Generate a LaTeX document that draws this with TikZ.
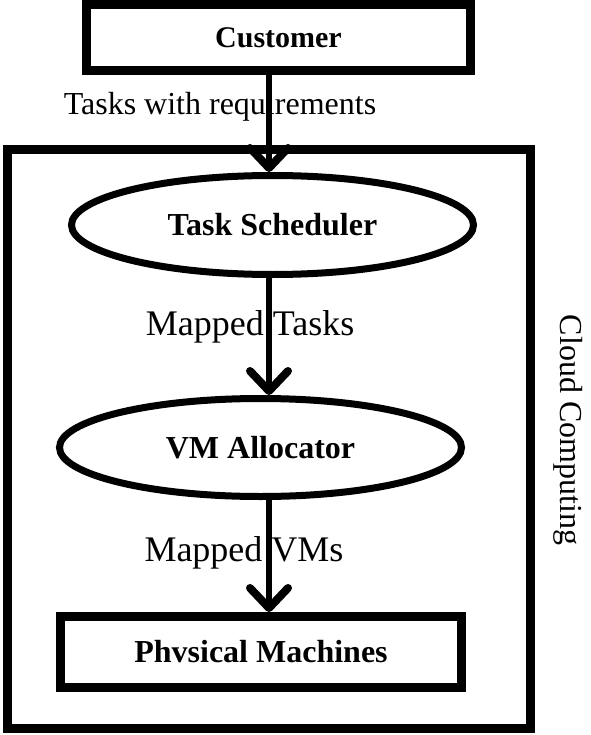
\documentclass[tikz,border=0pt]{standalone}
\usepackage{fontspec}
\setmainfont{Liberation Serif}
\usetikzlibrary{shapes.geometric,arrows.meta}
\begin{document}
\begin{tikzpicture}[x=1pt,y=-1pt,
  boxnode/.style={draw,line width=9pt,rectangle,inner sep=0pt,font=\fontsize{32}{38}\selectfont\bfseries},
  ellnode/.style={draw,line width=7pt,ellipse,inner sep=0pt,font=\fontsize{32}{38}\selectfont\bfseries},
  lbl/.style={inner sep=0pt,font=\fontsize{36}{42}\selectfont},
  arr/.style={line width=6pt,-{Straight Barb[length=20pt,width=38pt,line width=8pt,round]}}]
\useasboundingbox (0,0) rectangle (590,735);
\coordinate (ax) at (269,0);
\node[boxnode,minimum width=384pt,minimum height=66pt,font=\fontsize{30}{36}\selectfont\bfseries] (cust) at (278.5,37.5) {Customer};
\node[boxnode,minimum width=523pt,minimum height=579pt] (cloud) at (269,439) {};
\node[ellnode,minimum width=402pt,minimum height=99pt] (ts) at (272.5,225) {Task Scheduler};
\node[ellnode,minimum width=402pt,minimum height=98pt] (vm) at (260.5,447.5) {VM Allocator};
\node[boxnode,minimum width=401pt,minimum height=71pt] (pm) at (261,652) {Phvsical Machines};
\node[lbl,font=\fontsize{32}{38}\selectfont] (l1) at (220,107) {Tasks with requirements};
\node[lbl] (l2) at (250,327) {Mapped Tasks};
\node[lbl] (l3) at (244,553) {Mapped VMs};
\node[lbl,font=\fontsize{32}{38}\selectfont,rotate=-90] (cc) at (568,430) {Cloud Computing};
\draw[arr] (cust.south -| ax) -- (ts.north -| ax);
\draw[arr] (ts.south -| ax) -- (vm.north -| ax);
\draw[arr] (vm.south -| ax) -- (pm.north -| ax);
\end{tikzpicture}
\end{document}
